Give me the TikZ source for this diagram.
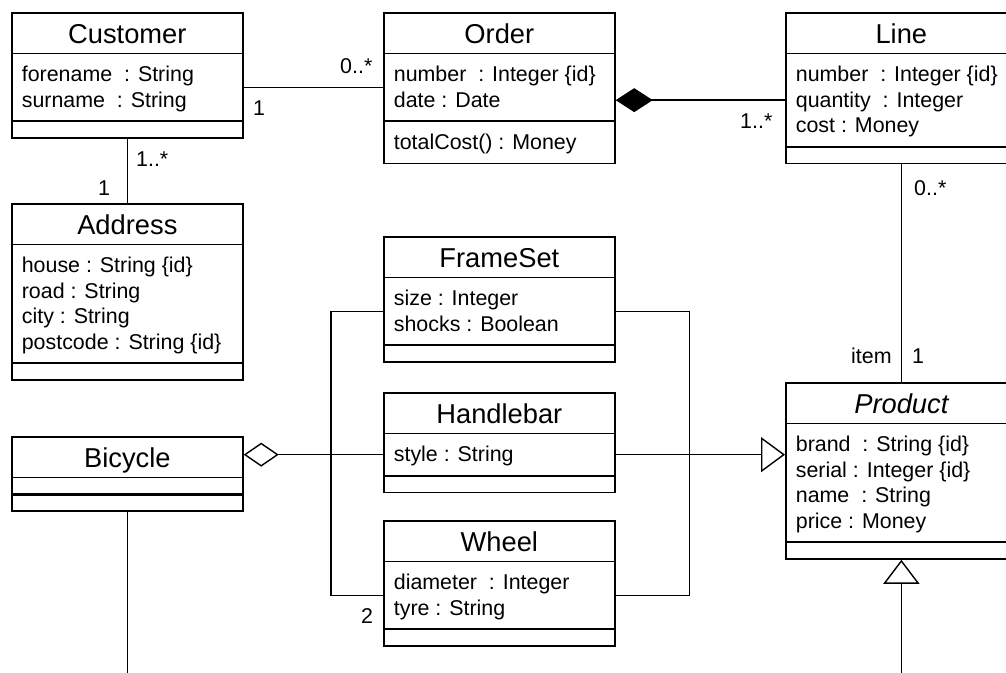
\documentclass[tikz,border=0pt]{standalone}
\usepackage{fontspec}
\setmainfont{Liberation Sans}
\usetikzlibrary{shapes.multipart,arrows.meta,calc}

% class name, the rows of a compartment, an empty compartment
\newcommand{\clsname}[1]{\fontsize{27.3}{30}\selectfont\rule[-1.5pt]{0pt}{24pt}\smash{#1}}
\newcommand{\astrut}{\rule[-5.5pt]{0pt}{25.5pt}}
\newcommand{\attrs}[1]{\vbox{\offinterlineskip\let\\\cr\halign{\astrut##\hfil\cr#1\crcr}}}
\newcommand{\nocomp}{\rule{0.1pt}{0pt}}

\tikzset{
  umlclass/.style={rectangle split, rectangle split parts=3, draw, line width=1.7pt,
    anchor=north west, minimum width=231pt, inner xsep=10pt, inner ysep=7.5pt,
    rectangle split part align={center,left,left},
    font=\fontsize{21.4}{25}\selectfont},
  assoc/.style={line width=1.4pt},
  mult/.style={font=\fontsize{21.4}{25}\selectfont, inner sep=0pt, anchor=base west}
}

\begin{document}
\begin{tikzpicture}[line cap=butt,line join=miter,x=1pt,y=-1pt]

	\useasboundingbox (0,0) rectangle (1006,672);
	\clip (0,0) rectangle (1006,672);

	% classes
	\node[umlclass] (customer) at (11,12) {\clsname{Customer}\nodepart{second}\attrs{forename~ : String\\surname~ : String}\nodepart{third}\nocomp};
	\node[umlclass] (order) at (383,12) {\clsname{Order}\nodepart{second}\attrs{number~ : Integer \{id\}\\date : Date}\nodepart{third}\attrs{totalCost() : Money}};
	\node[umlclass] (line) at (785,12) {\clsname{Line}\nodepart{second}\attrs{number~ : Integer \{id\}\\quantity~ : Integer\\cost : Money}\nodepart{third}\nocomp};
	\node[umlclass] (address) at (11,203) {\clsname{Address}\nodepart{second}\attrs{house : String \{id\}\\road : String\\city : String\\postcode : String \{id\}}\nodepart{third}\nocomp};
	\node[umlclass] (frameset) at (383,236) {\clsname{FrameSet}\nodepart{second}\attrs{size : Integer\\shocks : Boolean}\nodepart{third}\nocomp};
	\node[umlclass] (handlebar) at (383,392) {\clsname{Handlebar}\nodepart{second}\attrs{style : String}\nodepart{third}\nocomp};
	\node[umlclass] (wheel) at (383,520) {\clsname{Wheel}\nodepart{second}\attrs{diameter~ : Integer\\tyre : String}\nodepart{third}\nocomp};
	\node[umlclass] (bicycle) at (11,436) {\clsname{Bicycle}\nodepart{second}\nocomp\nodepart{third}\nocomp};
	\node[umlclass] (product) at (785,382) {\clsname{\itshape Product}\nodepart{second}\attrs{brand~ : String \{id\}\\serial : Integer \{id\}\\name~ : String\\price : Money}\nodepart{third}\nocomp};
	\draw[line width=2.6pt] (bicycle.two split west) -- (bicycle.two split east);

	% junctions and free ends
	\coordinate (hl) at ($(handlebar.text split west)!.5!(handlebar.two split west)$);
	\coordinate (hr) at ($(handlebar.text split east)!.5!(handlebar.two split east)$);
	\coordinate (jl) at ([xshift=-52pt]hl);
	\coordinate (jr) at ([xshift=74pt]hr);
	\coordinate (bottom) at (0,680);
	\coordinate (co) at ($(customer.text split east)!.5!(customer.two split east)$);
	\coordinate (ol) at ($(line.text split west)!.5!(line.two split west)$);

	% associations
	\draw[assoc] (co) -- (co -| order.west);
	\draw[assoc] (customer.south) -- (address.north);
	\draw[assoc] (line.south) -- (product.north);
	\draw[assoc, {Diamond[length=37pt,width=24pt]}-] (ol -| order.east) -- (ol);

	% parts of a bicycle
	\draw[assoc, {Diamond[open,length=35pt,width=24pt]}-] (jl -| bicycle.east) -- (jl);
	\draw[assoc] ($(frameset.text split west)!.5!(frameset.two split west)$) -| (jl);
	\draw[assoc] (hl) -- (jl);
	\draw[assoc] ($(wheel.text split west)!.5!(wheel.two split west)$) -| (jl);
	\draw[assoc] ($(frameset.text split east)!.5!(frameset.two split east)$) -| (jr);
	\draw[assoc] (hr) -- (jr);
	\draw[assoc] ($(wheel.text split east)!.5!(wheel.two split east)$) -| (jr);

	% generalisations
	\draw[assoc, -{Triangle[open,length=24pt,width=35pt]}] (jr) -- (jr -| product.west);
	\draw[assoc, -{Triangle[open,length=24pt,width=36pt]}] (bottom -| product.south) -- (product.south);
	\draw[assoc] (bicycle.south) -- (bottom -| bicycle.south);

	% multiplicities
	\node[mult] (m1) at (253,115) {1};
	\node[mult] (m2) at (340,73) {0..*};
	\node[mult] (m3) at (740,128) {1..*};
	\node[mult] (m4) at (136,166) {1..*};
	\node[mult] (m5) at (98,195) {1};
	\node[mult] (m6) at (914,195) {0..*};
	\node[mult] (m7) at (851,363) {item};
	\node[mult] (m8) at (912,363) {1};
	\node[mult] (m9) at (361,623) {2};

\end{tikzpicture}
\end{document}
